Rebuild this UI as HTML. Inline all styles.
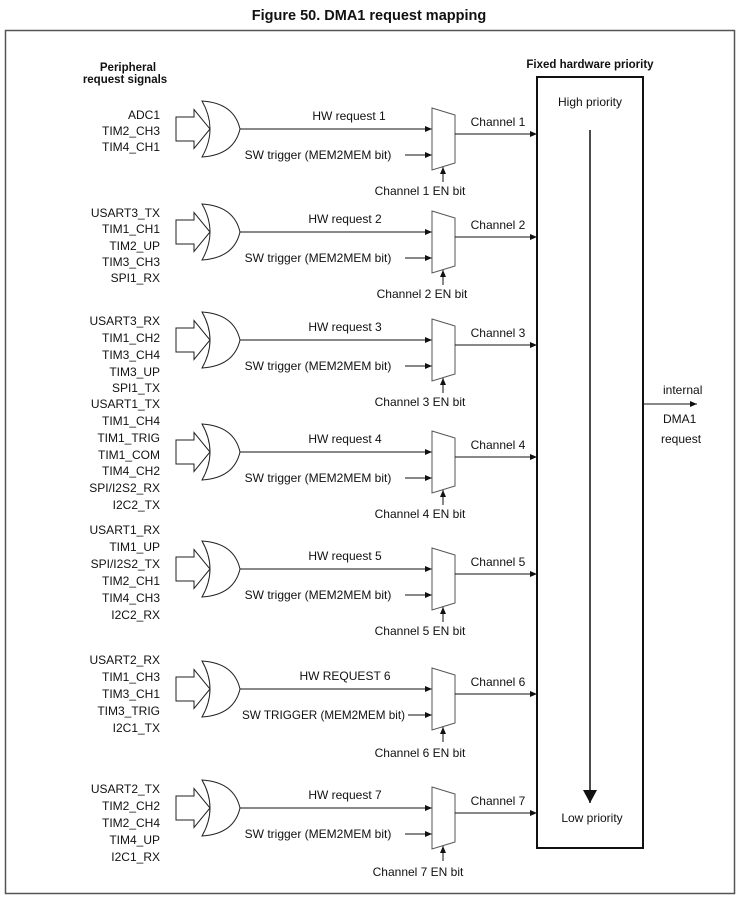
<!DOCTYPE html>
<html><head><meta charset="utf-8"><style>
html,body{margin:0;padding:0;background:#fff}
svg{display:block}
text{font-family:"Liberation Sans",sans-serif;font-size:12px;fill:#111}
</style></head><body>
<svg width="739" height="899" viewBox="0 0 739 899" xmlns="http://www.w3.org/2000/svg">
<defs>
<marker id="a" markerWidth="8" markerHeight="8" refX="7" refY="4" orient="auto" markerUnits="userSpaceOnUse"><path d="M0,1 L7,4 L0,7 z" fill="#111"/></marker>
<marker id="b" markerWidth="14" markerHeight="22" refX="13" refY="7" orient="auto" markerUnits="userSpaceOnUse"><path d="M0,0 L13,7 L0,14 z" fill="#111"/></marker>
<g id="gate">
<path d="M176,-12 H194 V-19.5 L210,0 L194,19.5 V12 H176 Z" fill="none" stroke="#222" stroke-width="1"/>
<path d="M202,-28 Q234,-26 240,0 Q234,26 202,28 Q218,0 202,-28 Z" fill="#fff" stroke="#222" stroke-width="1"/>
</g>
</defs>
<text x="369" y="20" text-anchor="middle" style="font-size:14.5px;font-weight:bold">Figure 50. DMA1 request mapping</text>
<rect x="5.5" y="30.5" width="729" height="863" fill="none" stroke="#555" stroke-width="1.5"/>
<text x="128" y="71" text-anchor="middle" style="font-weight:bold;font-size:11.5px">Peripheral</text>
<text x="125" y="83" text-anchor="middle" style="font-weight:bold;font-size:11.5px">request signals</text>
<text x="590" y="68" text-anchor="middle" style="font-weight:bold;font-size:11.5px">Fixed hardware priority</text>
<rect x="537" y="77" width="106" height="771" fill="none" stroke="#111" stroke-width="2"/>
<text x="590" y="106" text-anchor="middle">High priority</text>
<text x="592" y="822" text-anchor="middle">Low priority</text>
<line x1="590" y1="130" x2="590" y2="803" stroke="#111" stroke-width="1.5" marker-end="url(#b)"/>
<line x1="643" y1="404" x2="697" y2="404" stroke="#111" stroke-width="1" marker-end="url(#a)"/>
<text x="663" y="394">internal</text>
<text x="663" y="423">DMA1</text>
<text x="661" y="443">request</text>

<g transform="translate(0,108)">
<use href="#gate" y="21"/>
<line x1="240" y1="21" x2="432" y2="21" stroke="#111" marker-end="url(#a)"/>
<line x1="405" y1="47" x2="432" y2="47" stroke="#111" marker-end="url(#a)"/>
<path d="M432,0 L455,7 L455,55 L432,62 Z" fill="#fff" stroke="#555"/>
<line x1="455" y1="26" x2="537" y2="26" stroke="#111" marker-end="url(#a)"/>
<line x1="443" y1="74" x2="443" y2="59" stroke="#111" marker-end="url(#a)"/>
<text x="420" y="87" text-anchor="middle">Channel 1 EN bit</text>
<text x="349" y="12" text-anchor="middle">HW request 1</text>
<text x="318" y="51" text-anchor="middle">SW trigger (MEM2MEM bit)</text>
<text x="498" y="18" text-anchor="middle">Channel 1</text>
</g>
<g transform="translate(0,211)">
<use href="#gate" y="21"/>
<line x1="240" y1="21" x2="432" y2="21" stroke="#111" marker-end="url(#a)"/>
<line x1="405" y1="47" x2="432" y2="47" stroke="#111" marker-end="url(#a)"/>
<path d="M432,0 L455,7 L455,55 L432,62 Z" fill="#fff" stroke="#555"/>
<line x1="455" y1="26" x2="537" y2="26" stroke="#111" marker-end="url(#a)"/>
<line x1="443" y1="74" x2="443" y2="59" stroke="#111" marker-end="url(#a)"/>
<text x="422" y="87" text-anchor="middle">Channel 2 EN bit</text>
<text x="345" y="12" text-anchor="middle">HW request 2</text>
<text x="318" y="51" text-anchor="middle">SW trigger (MEM2MEM bit)</text>
<text x="498" y="18" text-anchor="middle">Channel 2</text>
</g>
<g transform="translate(0,319)">
<use href="#gate" y="21"/>
<line x1="240" y1="21" x2="432" y2="21" stroke="#111" marker-end="url(#a)"/>
<line x1="405" y1="47" x2="432" y2="47" stroke="#111" marker-end="url(#a)"/>
<path d="M432,0 L455,7 L455,55 L432,62 Z" fill="#fff" stroke="#555"/>
<line x1="455" y1="26" x2="537" y2="26" stroke="#111" marker-end="url(#a)"/>
<line x1="443" y1="74" x2="443" y2="59" stroke="#111" marker-end="url(#a)"/>
<text x="420" y="87" text-anchor="middle">Channel 3 EN bit</text>
<text x="345" y="12" text-anchor="middle">HW request 3</text>
<text x="318" y="51" text-anchor="middle">SW trigger (MEM2MEM bit)</text>
<text x="498" y="18" text-anchor="middle">Channel 3</text>
</g>
<g transform="translate(0,431)">
<use href="#gate" y="21"/>
<line x1="240" y1="21" x2="432" y2="21" stroke="#111" marker-end="url(#a)"/>
<line x1="405" y1="47" x2="432" y2="47" stroke="#111" marker-end="url(#a)"/>
<path d="M432,0 L455,7 L455,55 L432,62 Z" fill="#fff" stroke="#555"/>
<line x1="455" y1="26" x2="537" y2="26" stroke="#111" marker-end="url(#a)"/>
<line x1="443" y1="74" x2="443" y2="59" stroke="#111" marker-end="url(#a)"/>
<text x="420" y="87" text-anchor="middle">Channel 4 EN bit</text>
<text x="345" y="12" text-anchor="middle">HW request 4</text>
<text x="318" y="51" text-anchor="middle">SW trigger (MEM2MEM bit)</text>
<text x="498" y="18" text-anchor="middle">Channel 4</text>
</g>
<g transform="translate(0,548)">
<use href="#gate" y="21"/>
<line x1="240" y1="21" x2="432" y2="21" stroke="#111" marker-end="url(#a)"/>
<line x1="405" y1="47" x2="432" y2="47" stroke="#111" marker-end="url(#a)"/>
<path d="M432,0 L455,7 L455,55 L432,62 Z" fill="#fff" stroke="#555"/>
<line x1="455" y1="26" x2="537" y2="26" stroke="#111" marker-end="url(#a)"/>
<line x1="443" y1="74" x2="443" y2="59" stroke="#111" marker-end="url(#a)"/>
<text x="420" y="87" text-anchor="middle">Channel 5 EN bit</text>
<text x="345" y="12" text-anchor="middle">HW request 5</text>
<text x="318" y="51" text-anchor="middle">SW trigger (MEM2MEM bit)</text>
<text x="498" y="18" text-anchor="middle">Channel 5</text>
</g>
<g transform="translate(0,668)">
<use href="#gate" y="21"/>
<line x1="240" y1="21" x2="432" y2="21" stroke="#111" marker-end="url(#a)"/>
<line x1="408" y1="47" x2="432" y2="47" stroke="#111" marker-end="url(#a)"/>
<path d="M432,0 L455,7 L455,55 L432,62 Z" fill="#fff" stroke="#555"/>
<line x1="455" y1="26" x2="537" y2="26" stroke="#111" marker-end="url(#a)"/>
<line x1="443" y1="74" x2="443" y2="59" stroke="#111" marker-end="url(#a)"/>
<text x="420" y="89" text-anchor="middle">Channel 6 EN bit</text>
<text x="345" y="12" text-anchor="middle">HW REQUEST 6</text>
<rect x="240" y="38" width="166" height="16" fill="#fff"/>
<text x="242" y="51" textLength="163" lengthAdjust="spacingAndGlyphs">SW TRIGGER (MEM2MEM bit)</text>
<text x="498" y="18" text-anchor="middle">Channel 6</text>
</g>
<g transform="translate(0,787)">
<use href="#gate" y="21"/>
<line x1="240" y1="21" x2="432" y2="21" stroke="#111" marker-end="url(#a)"/>
<line x1="405" y1="47" x2="432" y2="47" stroke="#111" marker-end="url(#a)"/>
<path d="M432,0 L455,7 L455,55 L432,62 Z" fill="#fff" stroke="#555"/>
<line x1="455" y1="26" x2="537" y2="26" stroke="#111" marker-end="url(#a)"/>
<line x1="443" y1="74" x2="443" y2="59" stroke="#111" marker-end="url(#a)"/>
<text x="418" y="89" text-anchor="middle">Channel 7 EN bit</text>
<text x="345" y="12" text-anchor="middle">HW request 7</text>
<text x="318" y="51" text-anchor="middle">SW trigger (MEM2MEM bit)</text>
<text x="498" y="18" text-anchor="middle">Channel 7</text>
</g>

<g text-anchor="end">
<text x="160" y="119">ADC1</text><text x="160" y="135">TIM2_CH3</text><text x="160" y="151">TIM4_CH1</text>
<text x="160" y="217">USART3_TX</text><text x="160" y="233">TIM1_CH1</text><text x="160" y="250">TIM2_UP</text><text x="160" y="266">TIM3_CH3</text><text x="160" y="282">SPI1_RX</text>
<text x="160" y="325">USART3_RX</text><text x="160" y="342">TIM1_CH2</text><text x="160" y="359">TIM3_CH4</text><text x="160" y="376">TIM3_UP</text><text x="160" y="392">SPI1_TX</text>
<text x="160" y="408">USART1_TX</text><text x="160" y="425">TIM1_CH4</text><text x="160" y="442">TIM1_TRIG</text><text x="160" y="459">TIM1_COM</text><text x="160" y="475">TIM4_CH2</text><text x="160" y="492">SPI/I2S2_RX</text><text x="160" y="509">I2C2_TX</text>
<text x="160" y="534">USART1_RX</text><text x="160" y="551">TIM1_UP</text><text x="160" y="568">SPI/I2S2_TX</text><text x="160" y="585">TIM2_CH1</text><text x="160" y="602">TIM4_CH3</text><text x="160" y="619">I2C2_RX</text>
<text x="160" y="664">USART2_RX</text><text x="160" y="681">TIM1_CH3</text><text x="160" y="698">TIM3_CH1</text><text x="160" y="715">TIM3_TRIG</text><text x="160" y="732">I2C1_TX</text>
<text x="160" y="793">USART2_TX</text><text x="160" y="810">TIM2_CH2</text><text x="160" y="827">TIM2_CH4</text><text x="160" y="844">TIM4_UP</text><text x="160" y="861">I2C1_RX</text>
</g>
</svg>
</body></html>
